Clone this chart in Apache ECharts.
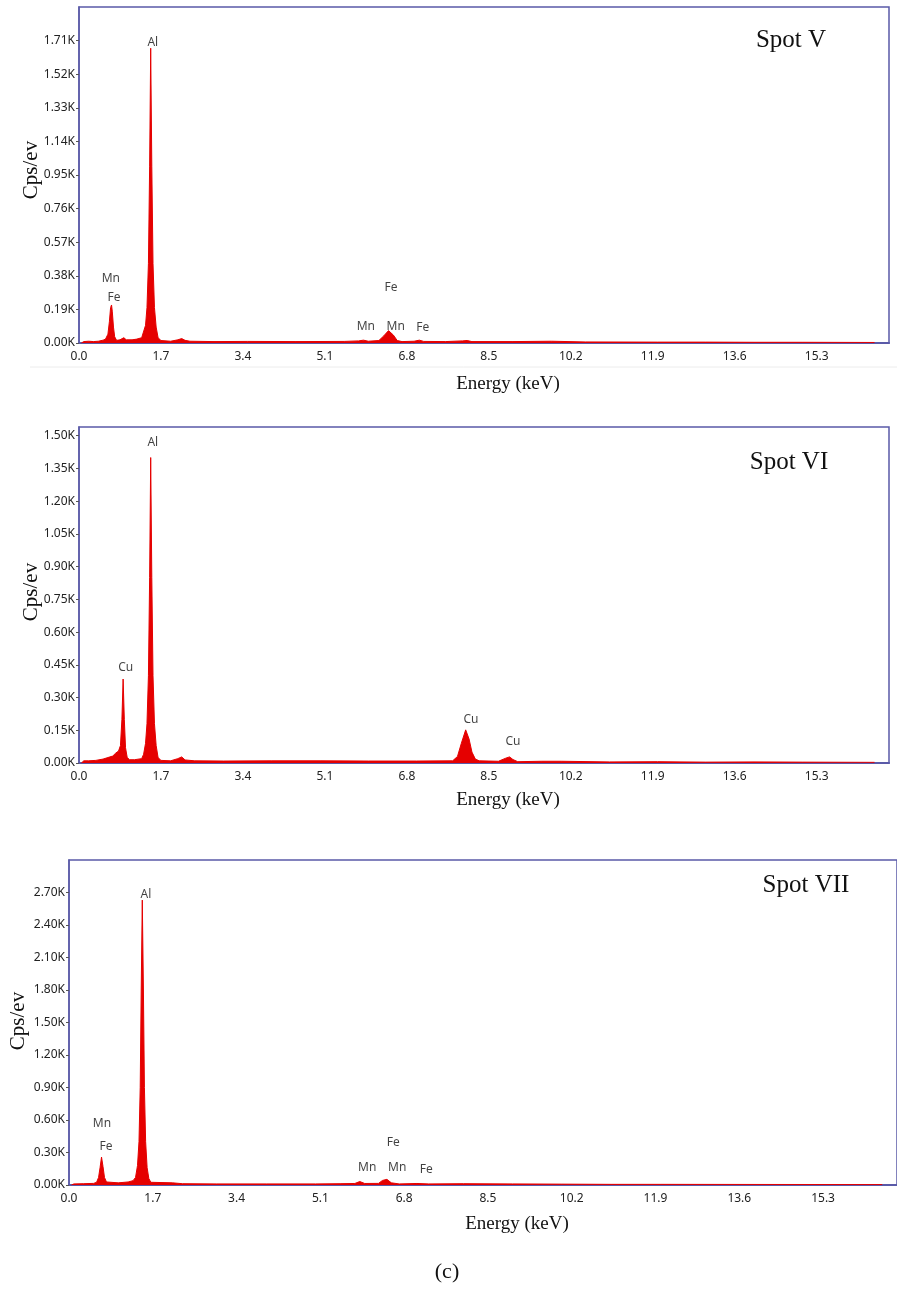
<!DOCTYPE html>
<html lang="en">
<head>
<meta charset="UTF-8">
<title>EDS spectra - Spot V, VI, VII</title>
<script src="https://cdn.jsdelivr.net/npm/echarts@6/dist/echarts.min.js"></script>
<style>
    body, html { margin: 0; padding: 0; background: #fff; }
    #main { width: 897px; height: 1301px; }
</style>
</head>
<body>
<div id="main"></div>
<script>
    // energy axis (keV)
    const energyMax = 16.8;
    const energyStep = 1.7;

    // count axis per panel (cps/eV)
    const countMax = [1900, 1540, 3000];
    const countStep = [190, 150, 300];

    const spotNames = ['Spot V', 'Spot VI', 'Spot VII'];

    // [energy keV, counts]
    const spotV = [
        [0.05, 0], [0.1, 8], [0.2, 10], [0.3, 8], [0.4, 10], [0.5, 16], [0.55, 22], [0.6, 50],
        [0.63, 120], [0.655, 200], [0.675, 215], [0.69, 180], [0.715, 90], [0.74, 35], [0.78, 15],
        [0.85, 18], [0.93, 30], [0.98, 18], [1.1, 18], [1.2, 22], [1.3, 30],
        [1.34, 40], [1.38, 100], [1.41, 200], [1.44, 450], [1.465, 1000], [1.487, 1667],
        [1.51, 1000], [1.535, 450], [1.565, 200], [1.6, 90], [1.64, 30], [1.7, 14], [1.9, 10],
        [2.05, 18], [2.13, 25], [2.2, 15], [2.3, 10], [2.8, 8], [3.5, 9], [4.5, 8], [5.5, 9],
        [5.8, 12], [5.9, 16], [6.0, 10], [6.22, 14], [6.32, 40], [6.42, 70], [6.52, 45], [6.6, 14],
        [6.7, 8], [6.95, 10], [7.06, 16], [7.15, 9], [7.6, 8], [7.95, 12], [8.05, 14], [8.15, 8],
        [9.0, 8], [9.8, 10], [10.5, 6], [12, 5], [13, 5], [14, 4], [15, 4], [16.5, 3]
    ];
    const spotVI = [
        [0.05, 0], [0.1, 10], [0.2, 10], [0.35, 12], [0.5, 18], [0.6, 25], [0.7, 32], [0.76, 45],
        [0.82, 55], [0.86, 80], [0.89, 200], [0.915, 385], [0.94, 200], [0.965, 70], [1.0, 25],
        [1.05, 15], [1.15, 15], [1.3, 20],
        [1.34, 40], [1.38, 90], [1.41, 180], [1.44, 400], [1.465, 850], [1.487, 1400],
        [1.51, 850], [1.535, 400], [1.565, 180], [1.6, 80], [1.64, 25], [1.7, 12], [1.9, 10],
        [2.05, 20], [2.13, 28], [2.2, 14], [2.4, 10], [3, 9], [4, 10], [5, 10], [6, 9], [7, 9],
        [7.75, 10], [7.85, 30], [7.93, 90], [8.02, 152], [8.09, 110], [8.15, 50], [8.22, 18],
        [8.3, 10], [8.7, 8], [8.85, 22], [8.93, 28], [9.0, 16],
        [9.1, 6], [9.6, 8], [10, 8], [11, 5], [12, 6], [13, 4], [14, 5], [15, 4], [16.5, 3]
    ];
    const spotVII = [
        [0.05, 0], [0.1, 10], [0.3, 12], [0.5, 15], [0.56, 25], [0.6, 70], [0.63, 160], [0.66, 258],
        [0.69, 170], [0.72, 70], [0.76, 28], [0.8, 20], [1.0, 20], [1.2, 28], [1.3, 40],
        [1.35, 70], [1.39, 180], [1.42, 400], [1.445, 900], [1.465, 1800], [1.487, 2630],
        [1.51, 1800], [1.53, 900], [1.555, 400], [1.585, 160], [1.62, 60], [1.66, 25], [1.7, 15],
        [2.1, 20], [2.3, 12], [3, 10], [4, 10], [5, 10], [5.5, 12], [5.8, 14], [5.9, 32], [6.0, 14],
        [6.28, 15], [6.36, 42], [6.45, 52], [6.54, 20], [6.7, 10], [7.06, 14], [7.3, 10], [8, 12],
        [9, 10], [10, 8], [11, 6], [12, 6], [14, 5], [16.5, 4]
    ];

    // peak labels: [energy, counts, element]
    const labelsV = [
        [1.53, 1696, 'Al'], [0.66, 363, 'Mn'], [0.725, 255, 'Fe'],
        [6.47, 312, 'Fe'], [5.95, 91, 'Mn'], [6.57, 91, 'Mn'], [7.13, 85, 'Fe']
    ];
    const labelsVI = [
        [1.53, 1467, 'Al'], [0.97, 437, 'Cu'], [8.13, 198, 'Cu'], [9.0, 97, 'Cu']
    ];
    const labelsVII = [
        [1.56, 2677, 'Al'], [0.67, 563, 'Mn'], [0.75, 351, 'Fe'],
        [6.58, 388, 'Fe'], [6.05, 157, 'Mn'], [6.66, 157, 'Mn'], [7.25, 138, 'Fe']
    ];

    const spectra = [spotV, spotVI, spotVII];
    const peakLabels = [labelsV, labelsVI, labelsVII];

    const frame = '#5a5aa8';
    const red = '#e50000';
    const sans = 'Noto Sans';
    const serif = 'Liberation Serif';

    const grids = [
        { left: 79, top: 7, width: 810, height: 336 },
        { left: 79, top: 427, width: 810, height: 336 },
        { left: 69, top: 860, width: 831, height: 325 }
    ];

    const xAxes = [], yAxes = [], series = [];
    grids.forEach(function (g, i) {
        g.show = true;
        g.borderColor = frame;
        g.borderWidth = 1.5;
        xAxes.push({
            type: 'value', gridIndex: i, min: 0, max: energyMax, interval: energyStep,
            axisLine: { lineStyle: { color: frame, width: 2 } },
            axisTick: { show: false },
            splitLine: { show: false },
            axisLabel: {
                showMaxLabel: false, margin: 8, fontSize: 12, color: '#222', fontFamily: sans,
                formatter: v => v.toFixed(1)
            }
        });
        yAxes.push({
            type: 'value', gridIndex: i, min: 0, max: countMax[i], interval: countStep[i],
            axisLine: { show: true, lineStyle: { color: frame, width: 1.5 } },
            axisTick: { show: true, length: 3, lineStyle: { color: '#555' } },
            splitLine: { show: false },
            axisLabel: {
                showMaxLabel: false, margin: 4, fontSize: 12, color: '#222', fontFamily: sans,
                formatter: v => (v / 1000).toFixed(2) + 'K'
            }
        });
        series.push({
            type: 'line', xAxisIndex: i, yAxisIndex: i,
            data: spectra[i], showSymbol: false, silent: true,
            lineStyle: { color: red, width: 1 },
            areaStyle: { color: red, opacity: 1 },
            z: 2
        });
        series.push({
            type: 'scatter', xAxisIndex: i, yAxisIndex: i,
            data: peakLabels[i], symbolSize: 1, silent: true,
            itemStyle: { color: 'transparent' },
            label: {
                show: true, position: 'inside', fontSize: 12, color: '#111', fontFamily: sans,
                formatter: p => p.value[2]
            },
            z: 3
        });
    });

    function txt(x, y, text, size, rot) {
        return {
            type: 'text', x: x, y: y, rotation: rot || 0, silent: true,
            style: {
                text: text, fontSize: size, fontFamily: serif, fill: '#111',
                textAlign: 'center', textVerticalAlign: 'middle'
            }
        };
    }

    const graphics = [
        { type: 'line', silent: true, shape: { x1: 30, y1: 367, x2: 897, y2: 367 }, style: { stroke: '#ececec', lineWidth: 1 } },
        txt(31, 170, 'Cps/ev', 21, Math.PI / 2),
        txt(31, 592, 'Cps/ev', 21, Math.PI / 2),
        txt(18, 1021, 'Cps/ev', 21, Math.PI / 2),
        txt(508, 384, 'Energy (keV)', 19),
        txt(508, 800, 'Energy (keV)', 19),
        txt(517, 1224, 'Energy (keV)', 19),
        txt(791, 40, spotNames[0], 25),
        txt(789, 462, spotNames[1], 25),
        txt(806, 885, spotNames[2], 25),
        txt(447, 1272, '(c)', 22)
    ];

    const chart = echarts.init(document.getElementById('main'));
    chart.setOption({
        animation: false,
        backgroundColor: '#fff',
        grid: grids,
        xAxis: xAxes,
        yAxis: yAxes,
        series: series,
        graphic: graphics
    });
</script>
</body>
</html>
